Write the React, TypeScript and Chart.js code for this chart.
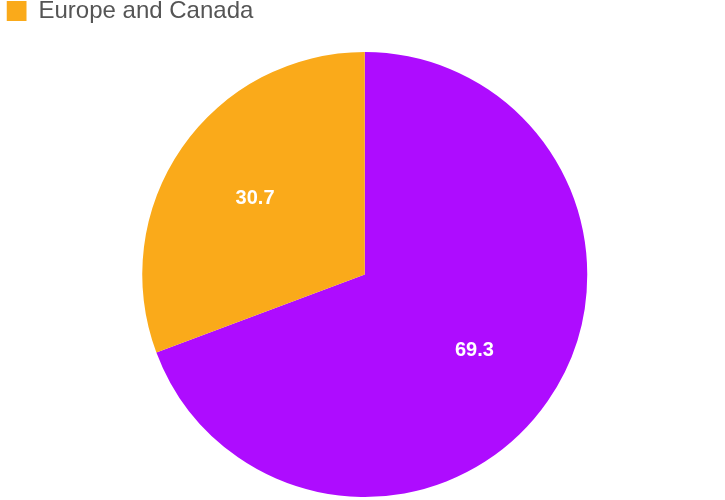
import React, { useEffect, useRef } from "react";
import { Chart, registerables } from "chart.js";

Chart.register(...registerables);

const labels = ["Other", "Europe and Canada"];
const values = [69.3, 30.7];
const colors = ["#AE0CFF", "#FAAA1A"];

const sliceLabels = {
  id: "sliceLabels",
  afterDatasetsDraw(chart: any) {
    const ctx = chart.ctx;
    const meta = chart.getDatasetMeta(0);
    ctx.save();
    ctx.fillStyle = "#ffffff";
    ctx.font = "bold 20px 'Liberation Sans', Arial, sans-serif";
    ctx.textAlign = "center";
    ctx.textBaseline = "middle";
    meta.data.forEach((arc: any, i: number) => {
      const { x, y, startAngle, endAngle, outerRadius } = arc.getProps(
        ["x", "y", "startAngle", "endAngle", "outerRadius"],
        true
      );
      const mid = (startAngle + endAngle) / 2;
      const r = outerRadius * 0.6;
      ctx.fillText(String(values[i]), x + Math.cos(mid) * r, y + Math.sin(mid) * r);
    });
    ctx.restore();
  },
};

export default function App() {
  const ref = useRef<HTMLCanvasElement>(null);
  useEffect(() => {
    document.body.style.margin = "0";
    const chart = new Chart(ref.current!, {
      type: "pie",
      data: {
        labels,
        datasets: [
          {
            data: values,
            backgroundColor: colors,
            borderWidth: 0,
          },
        ],
      },
      options: {
        animation: false,
        responsive: false,
        layout: { padding: { left: 6.5, top: -1, right: 2, bottom: 3 } },
        plugins: {
          legend: {
            position: "top",
            align: "start",
            labels: {
              boxWidth: 20,
              boxHeight: 20,
              padding: 0,
              color: "#555555",
              font: { size: 24, family: "'Liberation Sans', Arial, sans-serif" },
              filter: (item: any) => item.index === 1,
            },
          },
          subtitle: {
            display: true,
            text: " ",
            position: "top",
            weight: 500,
            font: { size: 1 },
            padding: { top: 0, bottom: 17.8 },
          } as any,
          tooltip: { enabled: false },
        },
      },
      plugins: [sliceLabels],
    });
    return () => chart.destroy();
  }, []);
  return (
    <div style={{ width: 725, height: 500 }}>
      <canvas ref={ref} width={725} height={500} />
    </div>
  );
}
